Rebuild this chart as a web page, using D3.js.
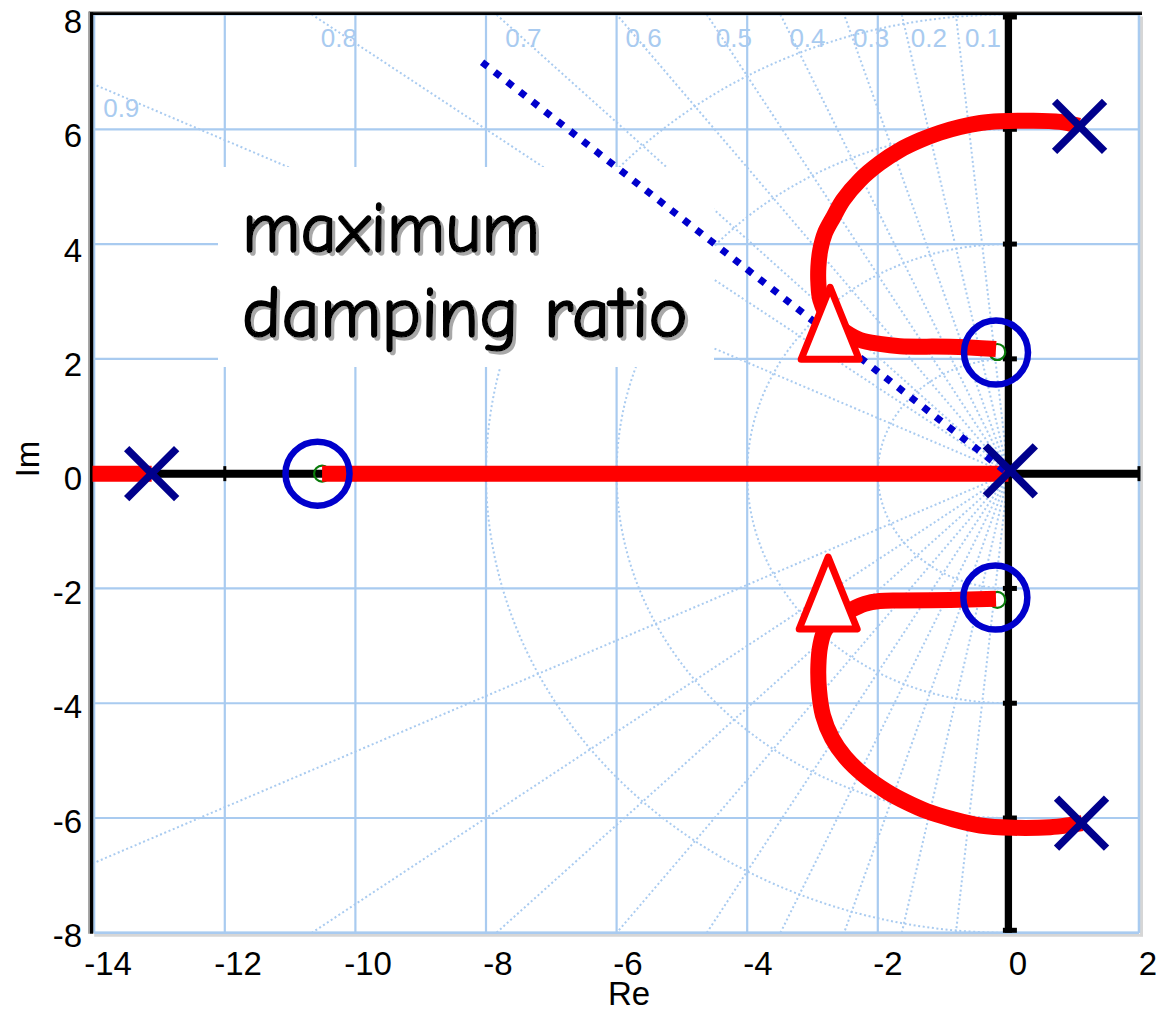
<!DOCTYPE html>
<html><head><meta charset="utf-8">
<script src="https://cdn.jsdelivr.net/npm/d3@7"></script>
<style>body{margin:0;background:#fff}</style>
</head><body>
<svg id="c" width="1156" height="1013"></svg>
<script>
// ---------------- data ----------------
const xTicks = [-14,-12,-10,-8,-6,-4,-2,0,2];
const yTicks = [-8,-6,-4,-2,0,2,4,6,8];
const zetas = [0.1,0.2,0.3,0.4,0.5,0.6,0.7,0.8,0.9];
const wns = [2,4,6,8];
const poles = [{x:-13.12,y:0},{x:0.03,y:0.05},{x:1.09,y:6.05},{x:1.12,y:-6.09}];
const zeros = [{x:-10.51,y:0},{x:-0.17,y:2.12},{x:-0.17,y:-2.20}];
const zeroRings = [{x:-10.58,y:0},{x:-0.19,y:2.11},{x:-0.20,y:-2.16}];
const realBranchLeft = [[-14.3,0],[-13.12,0]];
const realBranchRight = [[-10.51,0],[0,0]];
const upperBranch = [[1.08,6.06],[0.79,6.13],[0.33,6.15],[-0.13,6.14],[-0.43,6.11],[-0.74,6.04],[-1.05,5.94],[-1.35,5.81],[-1.66,5.64],[-1.97,5.41],[-2.27,5.12],[-2.53,4.77],[-2.68,4.47],[-2.81,4.19],[-2.88,3.90],[-2.91,3.60],[-2.91,3.32],[-2.88,3.03],[-2.73,2.68],[-2.50,2.47],[-2.27,2.33],[-1.97,2.26],[-1.66,2.22],[-0.89,2.21],[-0.19,2.17]];
const lowerBranch = [[-0.19,-2.18],[-0.89,-2.20],[-1.66,-2.21],[-1.97,-2.22],[-2.20,-2.27],[-2.42,-2.38],[-2.61,-2.50],[-2.81,-2.73],[-2.88,-2.99],[-2.91,-3.34],[-2.90,-3.77],[-2.84,-4.21],[-2.70,-4.61],[-2.50,-4.94],[-2.22,-5.25],[-1.86,-5.54],[-1.55,-5.73],[-1.25,-5.88],[-0.85,-6.02],[-0.43,-6.13],[0.07,-6.17],[0.64,-6.16],[0.95,-6.12],[1.13,-6.09]];
const maxDampPoints = [{x:-2.73,y:2.62},{x:-2.76,y:-2.08}];
const maxDampLine = [[-8.06,7.17],[0,0]];
const annotationLines = ["maximum","damping ratio"];

// ---------------- setup ----------------
const svg = d3.select('#c');
const x = d3.scaleLinear().domain([-14,2]).range([94.2,1139]);
const y = d3.scaleLinear().domain([-8,8]).range([932.8,14.5]);
const xLab = d3.scaleLinear().domain([-14,0]).range([108,1018]);
const yLab = d3.scaleLinear().domain([-8,8]).range([946.7,33.3]);
const GRID = '#a9cbf0';
const FONT = "'Liberation Sans', Arial, Helvetica, sans-serif";

svg.append('rect').attr('width',1156).attr('height',1013).attr('fill','#fff');

const defs = svg.append('defs');
defs.append('clipPath').attr('id','plot').append('rect')
  .attr('x',92.5).attr('y',y(8)).attr('width',x(2)-92.5).attr('height',y(-8)-y(8));
defs.append('clipPath').attr('id','lefthalf').append('rect')
  .attr('x',92.5).attr('y',y(8)).attr('width',x(0)-92.5).attr('height',y(-8)-y(8));
const f = defs.append('filter').attr('id','shadow').attr('x','-10%').attr('y','-20%').attr('width','130%').attr('height','150%');
f.append('feDropShadow').attr('dx',3).attr('dy',3).attr('stdDeviation',0.4)
  .attr('flood-color','#a8a8a8').attr('flood-opacity',1);

// grid lines
const g = svg.append('g');
g.selectAll('line.v').data(xTicks).join('line').attr('class','v')
  .attr('x1',d=>x(d)).attr('x2',d=>x(d)).attr('y1',y(8)).attr('y2',y(-8))
  .attr('stroke',GRID).attr('stroke-width',2.2);
g.selectAll('line.h').data(yTicks).join('line').attr('class','h')
  .attr('x1',x(-14)).attr('x2',x(2)).attr('y1',d=>y(d)).attr('y2',d=>y(d))
  .attr('stroke',GRID).attr('stroke-width',2.2);

// s-grid: damping lines and natural-frequency arcs
const sg = svg.append('g').attr('clip-path','url(#plot)')
  .attr('stroke',GRID).attr('stroke-width',2).attr('stroke-dasharray','2 2.6').attr('fill','none');
zetas.forEach(z=>{
  [1,-1].forEach(s=>{
    sg.append('line').attr('x1',x(0)).attr('y1',y(0))
      .attr('x2',x(-40*z)).attr('y2',y(s*40*Math.sqrt(1-z*z)));
  });
});
const sa = svg.append('g').attr('clip-path','url(#lefthalf)')
  .attr('stroke',GRID).attr('stroke-width',2).attr('stroke-dasharray','2 2.6').attr('fill','none');
sa.selectAll('ellipse').data(wns).join('ellipse')
  .attr('cx',x(0)).attr('cy',y(0))
  .attr('rx',d=>x(d)-x(0)).attr('ry',d=>y(0)-y(d));

// white annotation box
svg.append('rect').attr('x',218).attr('y',167).attr('width',496).attr('height',200).attr('fill','#fff');

// frame
svg.append('line').attr('x1',x(2)+2.5).attr('x2',x(2)+2.5).attr('y1',y(8)+2).attr('y2',y(-8)+3.5).attr('stroke','#d6d6d6').attr('stroke-width',3);
svg.append('line').attr('x1',x(-14)).attr('x2',x(2)+4).attr('y1',y(-8)+2.5).attr('y2',y(-8)+2.5).attr('stroke','#d6d6d6').attr('stroke-width',3);
svg.append('line').attr('x1',x(2)).attr('x2',x(2)).attr('y1',y(8)).attr('y2',y(-8)).attr('stroke',GRID).attr('stroke-width',2.4);
svg.append('line').attr('x1',x(-14)).attr('x2',x(2)).attr('y1',y(-8)).attr('y2',y(-8)).attr('stroke',GRID).attr('stroke-width',2.4);
svg.append('line').attr('x1',89).attr('x2',89).attr('y1',11.5).attr('y2',y(-8)+1).attr('stroke','#8a8a8a').attr('stroke-width',1.5);
svg.append('line').attr('x1',89).attr('x2',x(2)+3).attr('y1',11.8).attr('y2',11.8).attr('stroke','#8a8a8a').attr('stroke-width',1.2);
svg.append('line').attr('x1',91.6).attr('x2',91.6).attr('y1',12.3).attr('y2',y(-8)+1).attr('stroke','#000').attr('stroke-width',3.3);
svg.append('line').attr('x1',90).attr('x2',x(2)+3).attr('y1',13.6).attr('y2',13.6).attr('stroke','#000').attr('stroke-width',2.7);

// real and imaginary axes
svg.append('line').attr('x1',92.5).attr('x2',x(2)).attr('y1',y(0)).attr('y2',y(0)).attr('stroke','#000').attr('stroke-width',8);
svg.append('line').attr('x1',x(0)).attr('x2',x(0)).attr('y1',y(8)).attr('y2',y(-8)).attr('stroke','#000').attr('stroke-width',7.3);
svg.append('g').selectAll('rect').data(yTicks).join('rect')
  .attr('x',x(0)-5.5).attr('width',14).attr('height',5)
  .attr('y',d=>Math.min(Math.max(y(d)-2.5,y(8)),y(-8)-5)).attr('fill','#000');
svg.append('g').selectAll('rect').data(xTicks.filter(d=>d!==0 && d!==-14)).join('rect')
  .attr('x',d=>x(d)-1.5).attr('width',3).attr('y',y(0)-7.5).attr('height',15).attr('fill','#000');

// zeros (small green circles)
svg.append('g').selectAll('circle').data(zeros).join('circle')
  .attr('cx',d=>x(d.x)).attr('cy',d=>y(d.y)).attr('r',8)
  .attr('fill','none').attr('stroke','#0a7a0a').attr('stroke-width',2.2);

// root locus
const line = d3.line().x(d=>x(d[0])).y(d=>y(d[1]));
const curve = d3.line().x(d=>x(d[0])).y(d=>y(d[1])).curve(d3.curveCatmullRom.alpha(0.5));
const rl = svg.append('g').attr('clip-path','url(#plot)').attr('fill','none')
  .attr('stroke','#ff0000').attr('stroke-width',16).attr('stroke-linejoin','round');
rl.append('path').attr('d',line(realBranchLeft));
rl.append('path').attr('d',line(realBranchRight));
rl.append('path').attr('d',curve(upperBranch));
rl.append('path').attr('d',curve(lowerBranch));

// maximum damping ratio line
svg.append('path').attr('d',line(maxDampLine)).attr('fill','none')
  .attr('stroke','#0000cc').attr('stroke-width',7).attr('stroke-dasharray','7 9');

// triangles at the max-damping closed-loop poles
const tri = d3.line()([[0,-36],[29,36],[-29,36]]) + 'Z';
svg.append('g').selectAll('path').data(maxDampPoints).join('path')
  .attr('d',tri).attr('transform',d=>`translate(${x(d.x)},${y(d.y)})`)
  .attr('fill','#fff').attr('stroke','#ff0000').attr('stroke-width',7).attr('stroke-linejoin','round');

// poles (X)
const px = svg.append('g').attr('stroke','#00008c').attr('stroke-width',7.5);
poles.forEach(p=>{
  const cx=x(p.x), cy=y(p.y), h=25;
  px.append('line').attr('x1',cx-h).attr('y1',cy-h).attr('x2',cx+h).attr('y2',cy+h);
  px.append('line').attr('x1',cx-h).attr('y1',cy+h).attr('x2',cx+h).attr('y2',cy-h);
});

// blue rings around zeros
svg.append('g').selectAll('circle').data(zeroRings).join('circle')
  .attr('cx',d=>x(d.x)).attr('cy',d=>y(d.y)).attr('r',32)
  .attr('fill','none').attr('stroke','#0000cc').attr('stroke-width',6.5);

// annotation text (with drop shadow)
const afont = "'Comic Sans MS','Comic Neue','DejaVu Sans',sans-serif";
const widths = [298, 446];
const baselines = [252, 337];
const at = svg.append('g').attr('filter','url(#shadow)');
annotationLines.forEach((t,i)=>{
  at.append('text').attr('x',242).attr('y',baselines[i]).text(t)
    .attr('font-family',afont).attr('font-size',72).attr('fill','#000')
    .attr('stroke','#000').attr('stroke-width',1.5).attr('stroke-linejoin','round')
    .attr('textLength',widths[i]).attr('lengthAdjust','spacingAndGlyphs');
});

// damping ratio labels
zetas.forEach(z=>{
  const wd = Math.sqrt(1-z*z);
  let xi = -8*z/wd, yi = 8;
  if (xi < -14) { xi = -14; yi = 14*wd/z; }
  svg.append('text').attr('x',x(xi)+9).attr('y',y(yi)+32.5).text(z.toFixed(1))
    .attr('font-family',FONT).attr('font-size',26).attr('fill',GRID);
});

// tick labels
svg.append('g').selectAll('text').data(xTicks).join('text')
  .attr('x',d=>xLab(d)).attr('y',975).attr('text-anchor','middle')
  .attr('font-family',FONT).attr('font-size',33).attr('fill','#000').text(d=>d);
svg.append('g').selectAll('text').data(yTicks).join('text')
  .attr('x',82).attr('y',d=>yLab(d)).attr('text-anchor','end')
  .attr('font-family',FONT).attr('font-size',33).attr('fill','#000').text(d=>d);

// axis titles
svg.append('text').attr('x',629).attr('y',1005).attr('text-anchor','middle')
  .attr('font-family',FONT).attr('font-size',33).text('Re');
svg.append('text').attr('transform','translate(39,459) rotate(-90)').attr('text-anchor','middle')
  .attr('font-family',FONT).attr('font-size',33).text('Im');
</script>
</body></html>
